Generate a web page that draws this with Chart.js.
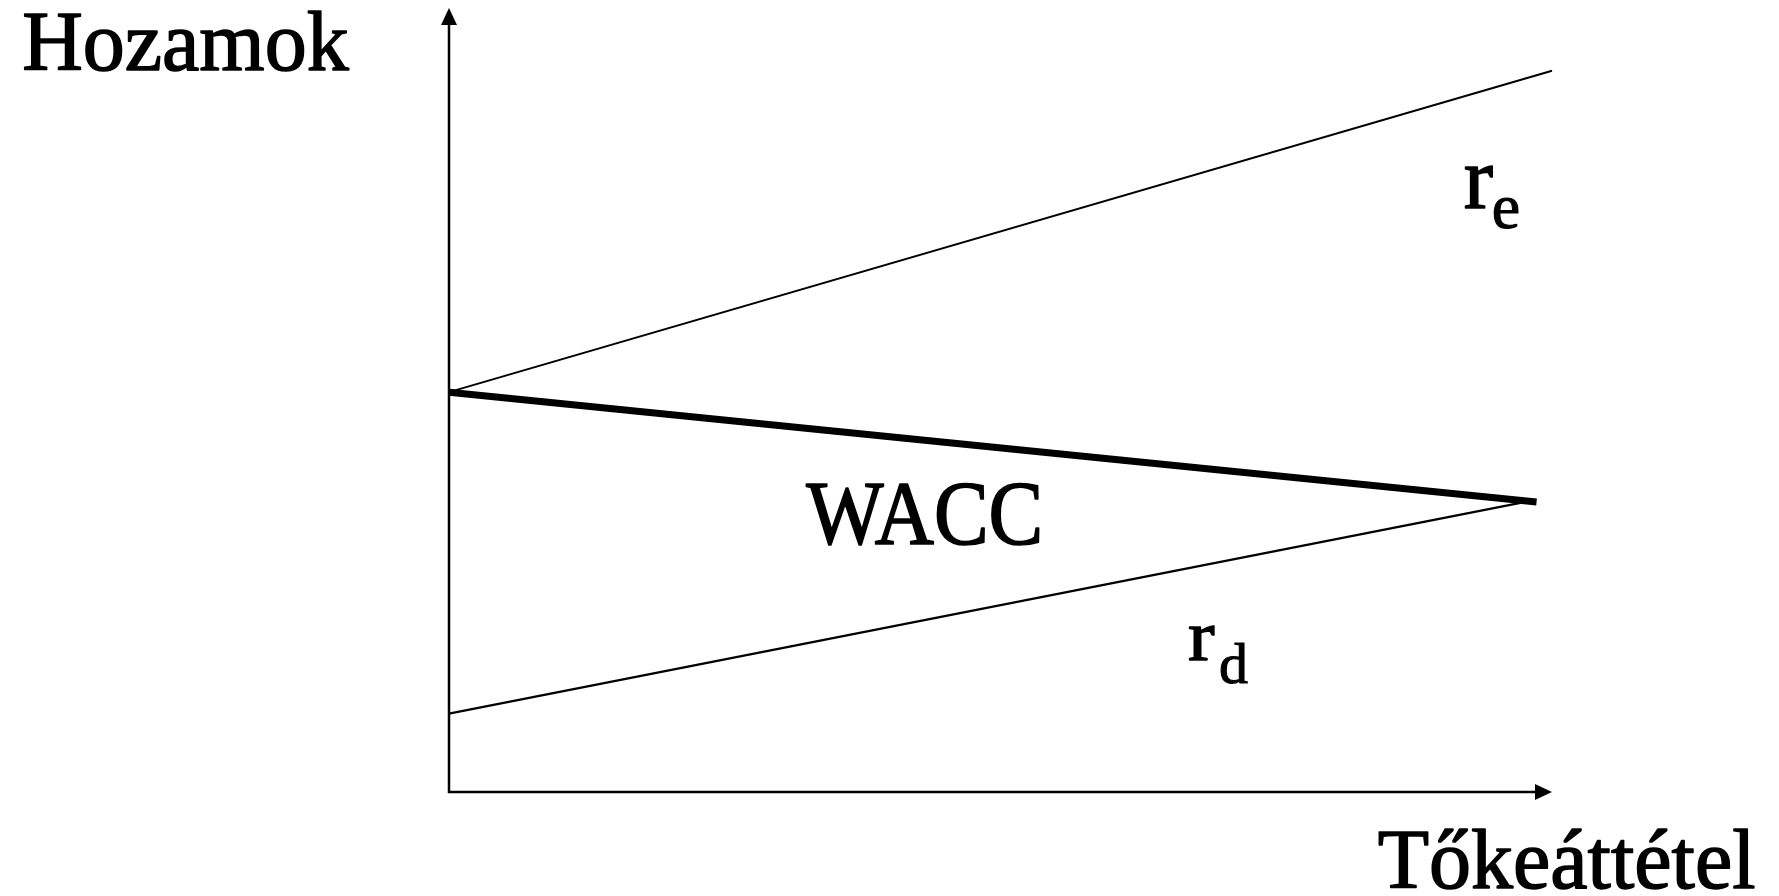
<!DOCTYPE html>
<html>
<head>
<meta charset="utf-8">
<script src="https://cdn.jsdelivr.net/npm/chart.js@4.4.1/dist/chart.umd.min.js"></script>
<style>
  html, body { margin: 0; padding: 0; background: #fff; }
</style>
</head>
<body>
<canvas id="chart" width="1779" height="896"></canvas>
<script>
// leverage (x) vs. returns (y), schematic units 0..100
const reX = [0, 100];
const reY = [51, 92];
const waccX = [0, 98.6];
const waccY = [51, 37];
const rdX = [0, 97.6];
const rdY = [10, 37];

const yTitle = 'Hozamok';
const xTitle = 'Tőkeáttétel';
const lineNames = ['r', 'WACC', 'r'];
const lineSubs = ['e', '', 'd'];

const toPoints = (xs, ys) => xs.map((x, i) => ({ x: x, y: ys[i] }));

const FONT = '"Liberation Serif", "Times New Roman", serif';

// where the texts sit, in data units, and how big they are
const textSpots = [
  { text: yTitle, x: -38.7, y: 92.1, size: 84 },
  { text: xTitle, x: 84.2, y: -12.2, size: 84 },
  { text: lineNames[0], sub: lineSubs[0], x: 92.0, y: 74.5, size: 88, subSize: 64, subDx: 28, subDy: 20 },
  { text: lineNames[1], x: 32.4, y: 31.6, size: 82, scaleY: 1.12 },
  { text: lineNames[2], sub: lineSubs[2], x: 67.0, y: 16.8, size: 80, scaleY: 0.9, subSize: 58, subDx: 31, subDy: 23 }
];

const axesPlugin = {
  id: 'axesPlugin',
  beforeDatasetsDraw(chart) {
    const { ctx, scales: { x, y } } = chart;
    const x0 = x.getPixelForValue(0), x1 = x.getPixelForValue(100);
    const y0 = y.getPixelForValue(0), y1 = y.getPixelForValue(100);
    ctx.save();
    ctx.strokeStyle = '#000';
    ctx.fillStyle = '#000';
    ctx.lineWidth = 2.5;
    ctx.lineCap = 'butt';
    ctx.lineJoin = 'miter';
    ctx.beginPath();
    ctx.moveTo(x0, y1 + 10);
    ctx.lineTo(x0, y0);
    ctx.lineTo(x1 - 10, y0);
    ctx.stroke();
    // arrow heads
    ctx.beginPath();
    ctx.moveTo(x0, y1);
    ctx.lineTo(x0 - 8, y1 + 17);
    ctx.lineTo(x0 + 8, y1 + 17);
    ctx.closePath();
    ctx.fill();
    ctx.beginPath();
    ctx.moveTo(x1, y0);
    ctx.lineTo(x1 - 17, y0 - 8);
    ctx.lineTo(x1 - 17, y0 + 8);
    ctx.closePath();
    ctx.fill();
    ctx.restore();
  },
  afterDatasetsDraw(chart) {
    const { ctx, scales: { x, y } } = chart;
    ctx.save();
    ctx.fillStyle = '#000';
    ctx.strokeStyle = '#000';
    ctx.lineJoin = 'round';
    ctx.textAlign = 'left';
    ctx.textBaseline = 'alphabetic';
    textSpots.forEach(t => {
      const px = x.getPixelForValue(t.x);
      const py = y.getPixelForValue(t.y);
      ctx.save();
      ctx.translate(px, py);
      ctx.scale(1, t.scaleY || 1);
      ctx.font = t.size + 'px ' + FONT;
      ctx.lineWidth = 1.5;
      ctx.fillText(t.text, 0, 0);
      ctx.strokeText(t.text, 0, 0);
      ctx.restore();
      if (t.sub) {
        ctx.font = t.subSize + 'px ' + FONT;
        ctx.lineWidth = 1.1;
        ctx.fillText(t.sub, px + t.subDx, py + t.subDy);
        ctx.strokeText(t.sub, px + t.subDx, py + t.subDy);
      }
    });
    ctx.restore();
  }
};

new Chart(document.getElementById('chart'), {
  type: 'line',
  data: {
    datasets: [
      { label: 're', data: toPoints(reX, reY), borderWidth: 2 },
      { label: 'WACC', data: toPoints(waccX, waccY), borderWidth: 7 },
      { label: 'rd', data: toPoints(rdX, rdY), borderWidth: 2.2 }
    ].map(d => Object.assign(d, {
      borderColor: '#000',
      pointRadius: 0,
      tension: 0,
      fill: false,
      clip: false,
      borderCapStyle: 'butt'
    }))
  },
  options: {
    responsive: false,
    animation: false,
    events: [],
    layout: { padding: { left: 449, right: 227, top: 8, bottom: 104 } },
    scales: {
      x: { type: 'linear', min: 0, max: 100, display: false },
      y: { type: 'linear', min: 0, max: 100, display: false }
    },
    plugins: {
      legend: { display: false },
      tooltip: { enabled: false }
    }
  },
  plugins: [axesPlugin]
});
</script>
</body>
</html>
